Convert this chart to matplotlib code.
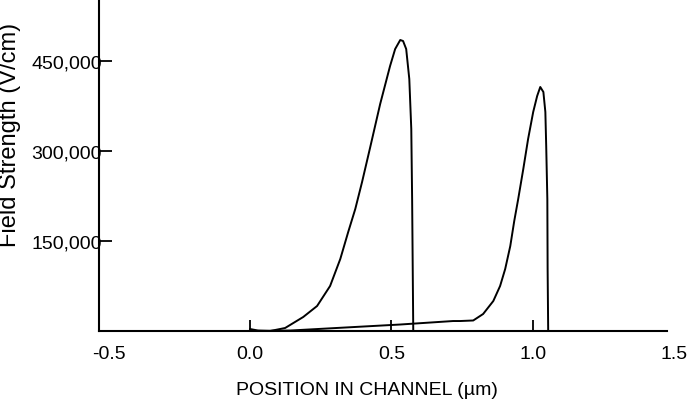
import matplotlib
matplotlib.use("Agg")
from matplotlib import pyplot as plt

plt.rcParams['font.family'] = ['Liberation Sans', 'DejaVu Sans']
plt.rcParams['font.size'] = 14

# values: position (um) vs field strength (V/cm)
pos_a = [0.0, 0.028, 0.071, 0.124, 0.188, 0.237, 0.283, 0.319, 0.347, 0.372, 0.396,
         0.425, 0.460, 0.495, 0.513, 0.531, 0.541, 0.552, 0.563, 0.570, 0.573, 0.577]
field_a = [3300, 800, 0, 5000, 23300, 41600, 74900, 119800, 164700, 203000, 247900,
           306200, 377700, 440900, 469200, 484200, 482500, 469200, 419300, 336100, 219600, 0]

pos_b = [0.0, 0.142, 0.531, 0.718, 0.743, 0.789, 0.824, 0.860, 0.884, 0.902, 0.920, 0.934,
         0.948, 0.966, 0.983, 1.001, 1.015, 1.026, 1.037, 1.044, 1.047, 1.051, 1.052, 1.054]
field_b = [0, 800, 10800, 16600, 16600, 17500, 28300, 49900, 74900, 103200, 141400, 183000,
           219600, 269600, 319500, 364400, 391000, 406000, 397700, 364400, 307800, 219600,
           103200, 0]

x_ticks = [-0.5, 0.0, 0.5, 1.0, 1.5]
x_labels = ["-0.5", "0.0", "0.5", "1.0", "1.5"]
y_ticks = [150000, 300000, 450000]
y_labels = ["150,000", "300,000", "450,000"]

W, H = 689, 406
fig = plt.figure(figsize=(W / 100, H / 100), dpi=100)

# axes box in pixels: left 99, right 680, bottom 332, top 0
ax = fig.add_axes([99 / W, (H - 332) / H, (680 - 99) / W, 332 / H])

ax.plot(pos_a, field_a, color='black', linewidth=1.4, solid_joinstyle='round')
ax.plot(pos_b, field_b, color='black', linewidth=1.4, solid_joinstyle='round')

ax.set_xlim(-0.534, 1.52)
ax.set_ylim(0, 552400)

for side in ['top', 'right']:
    ax.spines[side].set_visible(False)
ax.spines['bottom'].set_bounds(-0.534, 1.475)
ax.spines['bottom'].set_linewidth(1.5)
ax.spines['left'].set_linewidth(1.5)

ax.set_xticks(x_ticks)
ax.set_xticklabels(x_labels)
ax.set_yticks(y_ticks)
ax.set_yticklabels(y_labels)
ax.tick_params(axis='x', direction='in', length=8, width=1.3, pad=10)
ax.tick_params(axis='y', direction='in', length=9, width=1.3, pad=-2)

# no marks at the ends of the x axis, only the labels
xt = ax.xaxis.get_major_ticks()
xt[0].tick1line.set_visible(False)
xt[-1].tick1line.set_visible(False)

fig.text(367 / W, 1 - 395 / H, "POSITION IN CHANNEL (\u00b5m)",
         ha='center', va='baseline')
fig.text(16 / W, 1 - 135 / H, "Field Strength (V/cm)", rotation=90, fontsize=17,
         rotation_mode='anchor', ha='center', va='baseline')

fig.savefig("out.png", dpi=100)
